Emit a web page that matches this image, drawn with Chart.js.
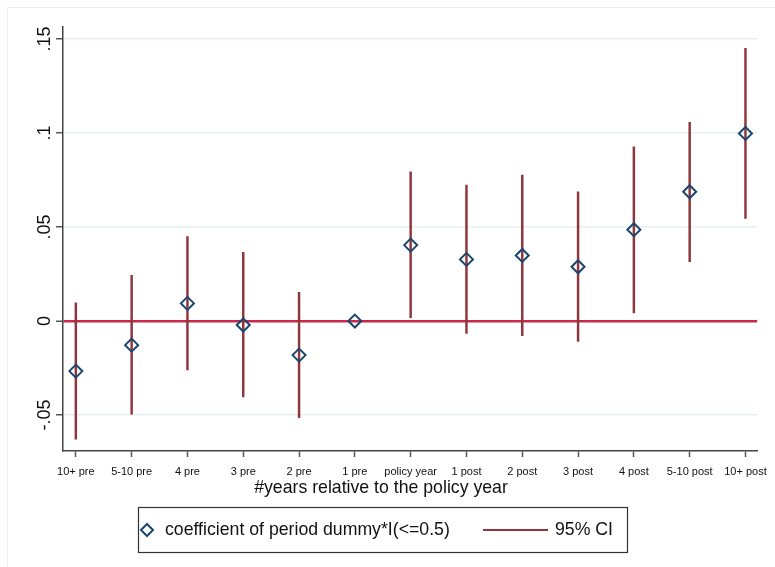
<!DOCTYPE html>
<html>
<head>
<meta charset="utf-8">
<script src="https://cdn.jsdelivr.net/npm/chart.js@4"></script>
<style>
  html, body { margin: 0; padding: 0; background: #fff; }
</style>
</head>
<body>
<canvas id="myChart" width="775" height="567"></canvas>
<script>
const periods = ['10+ pre', '5-10 pre', '4 pre', '3 pre', '2 pre', '1 pre', 'policy year',
                 '1 post', '2 post', '3 post', '4 post', '5-10 post', '10+ post']
const coef = [-0.0266, -0.0128, 0.0094, -0.0021, -0.0181, 0, 0.0404, 0.0328, 0.0349, 0.0289, 0.0486, 0.0688, 0.0998]
const ciLow = [-0.0628, -0.0495, -0.026, -0.0403, -0.0514, null, 0.0018, -0.0065, -0.0078, -0.0108, 0.0044, 0.0316, 0.0546]
const ciHigh = [0.0097, 0.0243, 0.045, 0.0365, 0.0153, null, 0.0794, 0.0723, 0.0777, 0.0688, 0.0927, 0.1057, 0.145]
const yTicks = [-0.05, 0, 0.05, 0.1, 0.15]
const yTickLabels = ['-.05', '0', '.05', '.1', '.15']

const navy = '#1a476f'
const maroon = '#90353b'
const zeroRed = '#c8284a'
const font = '"Liberation Sans", Arial, sans-serif'

const pointData = coef.map((v, i) => ({ x: i, y: v }))
const ciData = periods.map((p, i) => ciLow[i] === null ? null : ({ x: i, y: [ciLow[i], ciHigh[i]] }))
  .filter(d => d !== null)

const frame = {
  id: 'frame',
  beforeDraw(chart) {
    const c = chart.ctx
    c.save()
    c.fillStyle = '#fff'
    c.fillRect(0, 0, chart.width, chart.height)
    c.strokeStyle = '#efefef'
    c.lineWidth = 1
    c.beginPath()
    c.moveTo(7.5, chart.height)
    c.lineTo(7.5, 7.5)
    c.lineTo(chart.width, 7.5)
    c.stroke()
    c.restore()
  },
  afterDraw(chart) {
    const c = chart.ctx
    c.save()
    c.fillStyle = '#111'
    c.font = '17.7px ' + font
    c.textAlign = 'center'
    c.textBaseline = 'middle'
    c.fillText('#years relative to the policy year', 381, 488)

    // legend box
    c.strokeStyle = '#333'
    c.lineWidth = 1.2
    c.strokeRect(138.5, 507.5, 489, 45)
    c.strokeStyle = navy
    c.lineWidth = 2
    c.beginPath()
    c.moveTo(141, 530); c.lineTo(147, 524); c.lineTo(153, 530); c.lineTo(147, 536)
    c.closePath()
    c.stroke()
    c.textAlign = 'left'
    c.fillStyle = '#111'
    c.fillText('coefficient of period dummy*I(<=0.5)', 165, 530)
    c.strokeStyle = maroon
    c.lineWidth = 2
    c.beginPath()
    c.moveTo(483, 530); c.lineTo(548, 530)
    c.stroke()
    c.fillText('95% CI', 555, 530)
    c.restore()
  }
}

new Chart(document.getElementById('myChart'), {
  type: 'bar',
  data: {
    datasets: [
      {
        type: 'scatter',
        label: 'coefficient of period dummy*I(<=0.5)',
        data: pointData,
        pointStyle: 'rectRot',
        pointRadius: 6.5,
        pointBorderWidth: 2,
        borderColor: navy,
        backgroundColor: 'rgba(0,0,0,0)',
        order: 0
      },
      {
        type: 'bar',
        label: '95% CI',
        data: ciData,
        backgroundColor: maroon,
        barThickness: 1.8,
        order: 1
      }
    ]
  },
  plugins: [frame],
  options: {
    responsive: false,
    animation: false,
    devicePixelRatio: 1,
    layout: { padding: { left: 0, top: 27, right: 16, bottom: 0 } },
    plugins: { legend: { display: false }, tooltip: { enabled: false } },
    scales: {
      x: {
        type: 'linear',
        offset: false,
        min: -0.23,
        max: 12.21,
        afterBuildTicks: s => { s.ticks = periods.map((p, i) => ({ value: i })) },
        afterFit: s => { s.height = 116 },
        ticks: {
          callback: v => periods[v],
          font: { family: font, size: 11 },
          color: '#111',
          padding: 8,
          maxRotation: 0,
          autoSkip: false
        },
        grid: { offset: false, drawOnChartArea: false, tickLength: 6, tickColor: '#555', tickWidth: 1.5 },
        border: { color: '#444', width: 1.5 }
      },
      y: {
        min: -0.0691,
        max: 0.1564,
        afterBuildTicks: s => { s.ticks = yTicks.map(v => ({ value: v })) },
        afterFit: s => { s.width = 63 },
        ticks: {
          callback: v => yTickLabels[yTicks.indexOf(v)],
          font: { family: font, size: 18 },
          color: '#111',
          minRotation: 90,
          maxRotation: 90,
          crossAlign: 'center',
          padding: -5
        },
        grid: {
          color: c => c.tick && c.tick.value === 0 ? zeroRed : '#e6eff0',
          lineWidth: c => c.tick && c.tick.value === 0 ? 2.5 : 1.5,
          tickLength: 7,
          tickColor: '#555',
          tickWidth: 1.5
        },
        border: { color: '#444', width: 1.5 }
      }
    }
  }
})
</script>
</body>
</html>
